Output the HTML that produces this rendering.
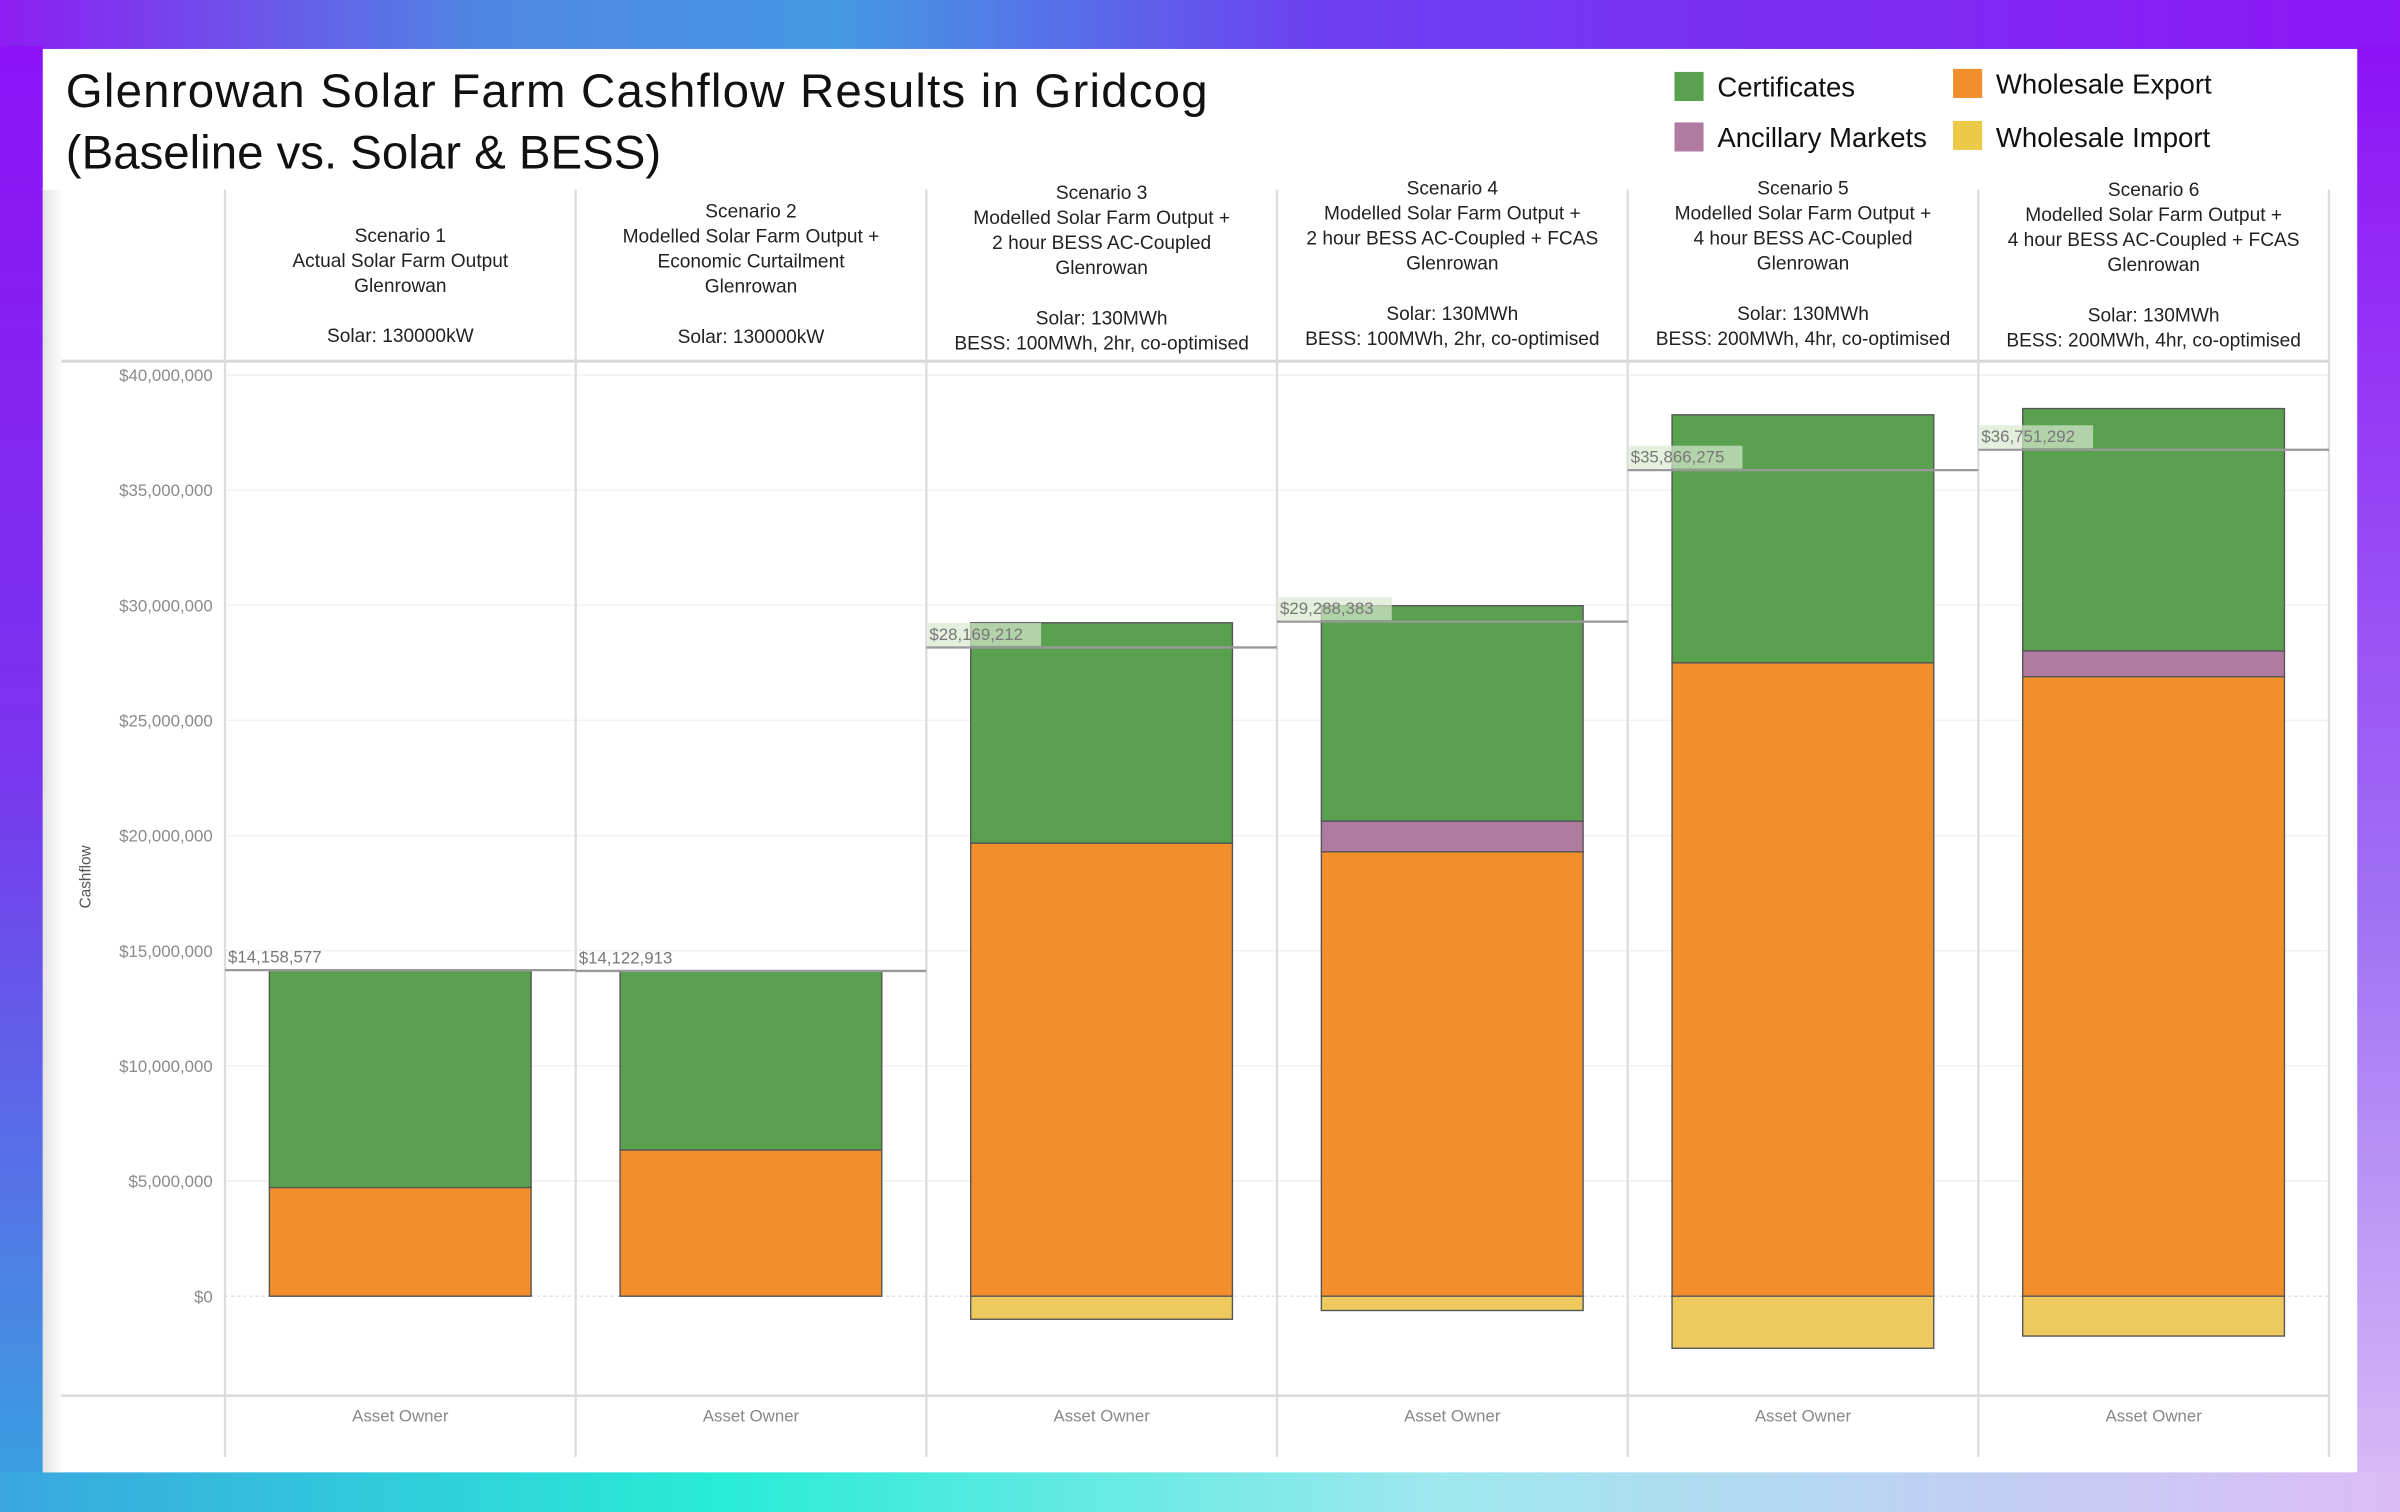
<!DOCTYPE html>
<html><head><meta charset="utf-8"><style>
html,body{margin:0;padding:0;width:2400px;height:1512px;overflow:hidden;background:#fff}
svg{display:block}
text{font-family:"Liberation Sans",sans-serif}
</style></head><body>
<svg id="chart" width="2400" height="1512" viewBox="0 0 1568 988" preserveAspectRatio="none" xmlns="http://www.w3.org/2000/svg">
<defs>
<linearGradient id="topg" x1="0" y1="0" x2="1" y2="0">
<stop offset="0" stop-color="#8d1df2"/><stop offset="0.2" stop-color="#4f86e3"/><stop offset="0.35" stop-color="#4598e2"/><stop offset="0.55" stop-color="#6d3ff0"/><stop offset="1" stop-color="#8d17f7"/></linearGradient>
<linearGradient id="leftg" x1="0" y1="0" x2="0" y2="1">
<stop offset="0" stop-color="#8d12f6"/><stop offset="0.5" stop-color="#7a35ee"/><stop offset="1" stop-color="#3a9fe0"/></linearGradient>
<linearGradient id="rightg" x1="0" y1="0" x2="0" y2="1">
<stop offset="0" stop-color="#8d12f6"/><stop offset="0.6" stop-color="#a070f4"/><stop offset="1" stop-color="#d8b8f6"/></linearGradient>
<linearGradient id="botg" x1="0" y1="0" x2="1" y2="0">
<stop offset="0" stop-color="#3aa6e0"/><stop offset="0.3" stop-color="#28ecd6"/><stop offset="0.6" stop-color="#9ee8ee"/><stop offset="1" stop-color="#dcbcf6"/></linearGradient>
<linearGradient id="shadow" x1="0" y1="0" x2="1" y2="0">
<stop offset="0" stop-color="#e4e4e4"/><stop offset="1" stop-color="#ffffff"/></linearGradient>
</defs>
<rect x="0" y="0" width="1568" height="32" fill="url(#topg)"/>
<rect x="0" y="30" width="28" height="935" fill="url(#leftg)"/>
<rect x="1540" y="30" width="28" height="935" fill="url(#rightg)"/>
<rect x="0" y="962" width="1568" height="26" fill="url(#botg)"/>
<rect x="28" y="32" width="1512" height="930" fill="#fff"/>
<rect x="28" y="124" width="14" height="838" fill="url(#shadow)"/>

<text x="43" y="70" font-size="31" fill="#111" textLength="746">Glenrowan Solar Farm Cashflow Results in Gridcog</text>
<text x="43" y="110" font-size="31" fill="#111" textLength="389">(Baseline vs. Solar &amp; BESS)</text>

<g>
<rect x="1094" y="47" width="19" height="19" fill="#59a14f"/>
<text x="1122" y="63" font-size="18" fill="#111">Certificates</text>
<rect x="1276" y="45" width="19" height="19" fill="#f28e2b"/>
<text x="1304" y="61" font-size="18" fill="#111">Wholesale Export</text>
<rect x="1094" y="80" width="19" height="19" fill="#b07aa1"/>
<text x="1122" y="96" font-size="18" fill="#111">Ancillary Markets</text>
<rect x="1276" y="79" width="19" height="19" fill="#edc948"/>
<text x="1304" y="96" font-size="18" fill="#111">Wholesale Import</text>
</g>
<g id="plot"></g>
</svg>
<script>
const scenarios = ["Scenario 1","Scenario 2","Scenario 3","Scenario 4","Scenario 5","Scenario 6"];
const exportVals = [4.72, 6.35, 19.67, 19.3, 27.5, 26.9];
const ancillaryVals = [0, 0, 0, 1.33, 0, 1.12];
const certificateVals = [9.44, 7.77, 9.57, 9.35, 10.77, 10.52];
const importVals = [0, 0, -1.0, -0.62, -2.26, -1.73];
const netLabels = ["$14,158,577","$14,122,913","$28,169,212","$29,288,383","$35,866,275","$36,751,292"];
const netVals = [14.158577, 14.122913, 28.169212, 29.288383, 35.866275, 36.751292];
const yTicks = [0,5,10,15,20,25,30,35,40];
const yTickLabels = ["$0","$5,000,000","$10,000,000","$15,000,000","$20,000,000","$25,000,000","$30,000,000","$35,000,000","$40,000,000"];
const headers = [
 ["Scenario 1","Actual Solar Farm Output","Glenrowan","","Solar: 130000kW"],
 ["Scenario 2","Modelled Solar Farm Output +","Economic Curtailment","Glenrowan","","Solar: 130000kW"],
 ["Scenario 3","Modelled Solar Farm Output +","2 hour BESS AC-Coupled","Glenrowan","","Solar: 130MWh","BESS: 100MWh, 2hr, co-optimised"],
 ["Scenario 4","Modelled Solar Farm Output +","2 hour BESS AC-Coupled + FCAS","Glenrowan","","Solar: 130MWh","BESS: 100MWh, 2hr, co-optimised"],
 ["Scenario 5","Modelled Solar Farm Output +","4 hour BESS AC-Coupled","Glenrowan","","Solar: 130MWh","BESS: 200MWh, 4hr, co-optimised"],
 ["Scenario 6","Modelled Solar Farm Output +","4 hour BESS AC-Coupled + FCAS","Glenrowan","","Solar: 130MWh","BESS: 200MWh, 4hr, co-optimised"]
];
const headerTop = [153,137,125,122,122,123];

const NS="http://www.w3.org/2000/svg";
const plot=document.getElementById('plot');
const y0=847, pxPerM=(847-245)/40;
function yScale(v){return y0 - v*pxPerM;}
const colLeft=147, colW=229.1;
function colX(i){return colLeft + i*colW;}
function mk(tag,attrs,parent){const e=document.createElementNS(NS,tag);for(const k in attrs)e.setAttribute(k,attrs[k]);(parent||plot).appendChild(e);return e;}

// gridlines and y ticks
yTicks.forEach((t,i)=>{
  const g=mk('line',{x1:147,x2:1521,y1:yScale(t),y2:yScale(t),stroke:t===0?'#e0e0e0':'#f1f1f1','stroke-width':1,'stroke-dasharray':t===0?'2,2':'none'});
  
  
  const tx=mk('text',{x:139,y:yScale(t)+4,'font-size':11,fill:'#8a8a8a','text-anchor':'end'});
  tx.textContent=yTickLabels[i];
  
  
});
// frame lines
let l=mk('line',{x1:40,x2:1521,y1:236,y2:236,stroke:'#d8d8d8','stroke-width':2});


l=mk('line',{x1:40,x2:1521,y1:912,y2:912,stroke:'#d8d8d8','stroke-width':1.5});


for(let i=0;i<=6;i++){
  l=mk('line',{x1:colX(i),x2:colX(i),y1:124,y2:952,stroke:'#dcdcdc','stroke-width':1.5});
  
  
}
const yt=mk('text',{x:0,y:0,'font-size':10,fill:'#555','text-anchor':'middle',transform:'translate(59,573) rotate(-90)'});
yt.textContent='Cashflow';



scenarios.forEach((s,i)=>{
  const cx=colX(i)+colW/2;
  headers[i].forEach((line,j)=>{
    if(!line)return;
    const t=mk('text',{x:cx,y:headerTop[i]+5+j*16.4,'font-size':12.5,fill:'#222','text-anchor':'middle'});
    t.textContent=line;
    
    
  });
  const bx=colX(i)+29, bw=171;
  const segs=[
    [0,exportVals[i],'#f28e2b','bar-wholesale-export'],
    [exportVals[i],exportVals[i]+ancillaryVals[i],'#b07aa1','bar-ancillary-markets'],
    [exportVals[i]+ancillaryVals[i],exportVals[i]+ancillaryVals[i]+certificateVals[i],'#59a14f','bar-certificates'],
    [importVals[i],0,'#edc95e','bar-wholesale-import']
  ];
  segs.forEach(sg=>{
    if(sg[1]-sg[0]<=0)return;
    const r=mk('rect',{x:bx,y:yScale(sg[1]),width:bw,height:yScale(sg[0])-yScale(sg[1]),fill:sg[2],stroke:'#555','stroke-width':0.9});
    
    
  });
  const ny=yScale(netVals[i]);
  const nl=mk('line',{x1:colX(i),x2:colX(i+1),y1:ny,y2:ny,stroke:'#999','stroke-width':1.5});
  
  
  if(i>=2){
    const bg=mk('rect',{x:colX(i)+1,y:ny-16,width:74,height:15,fill:'#d8e8d0','fill-opacity':0.7});
    
    
  }
  const nt=mk('text',{x:colX(i)+2,y:ny-5,'font-size':11,fill:'#777'});
  nt.textContent=netLabels[i];
  
  
  const xl=mk('text',{x:cx,y:929,'font-size':11,fill:'#888','text-anchor':'middle'});
  xl.textContent='Asset Owner';
  
  
});
</script>
</body></html>
